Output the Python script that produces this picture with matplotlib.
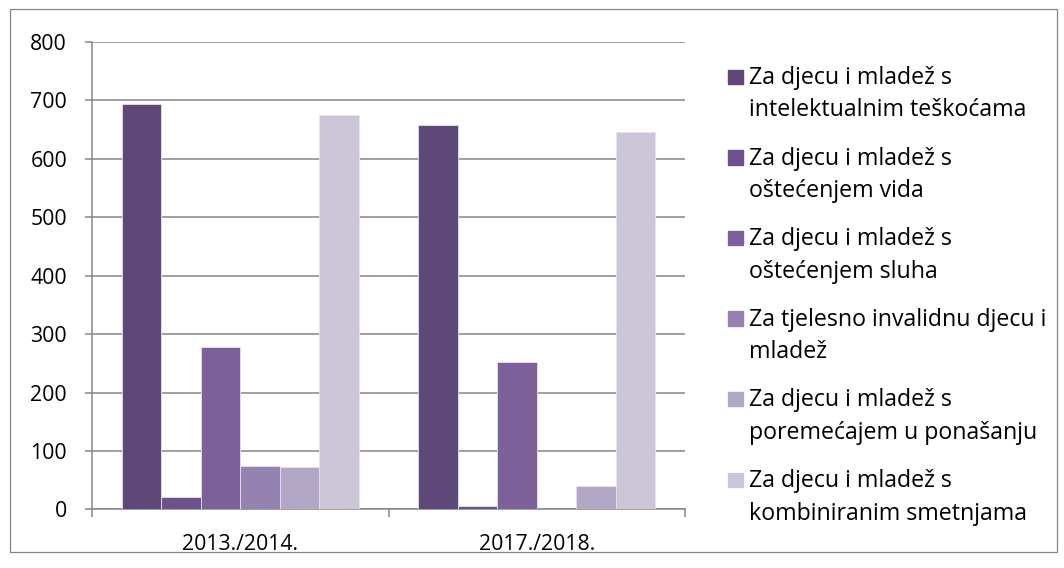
import numpy as np
import matplotlib.pyplot as plt
from matplotlib.patches import Rectangle

# school years on the x axis
years = ['2013./2014.', '2017./2018.']

# number of pupils per type of school
intelektualne = [693, 657]
vid = [21, 6]
sluh = [278, 253]
tjelesno = [74, 0]
ponasanje = [72, 40]
kombinirane = [675, 646]

labels = ['Za djecu i mladež s\nintelektualnim teškoćama',
          'Za djecu i mladež s\noštećenjem vida',
          'Za djecu i mladež s\noštećenjem sluha',
          'Za tjelesno invalidnu djecu i\nmladež',
          'Za djecu i mladež s\nporemećajem u ponašanju',
          'Za djecu i mladež s\nkombiniranim smetnjama']
colors = ['#5E4878', '#6A528C', '#7C6099', '#9482B0', '#B2A8C6', '#CCC5D8']

series = [intelektualne, vid, sluh, tjelesno, ponasanje, kombinirane]

plt.rcParams['font.family'] = ['Open Sans', 'DejaVu Sans']
plt.rcParams['font.size'] = 15.3

fig = plt.figure(figsize=(10.64, 5.68), dpi=100)
ax = fig.add_axes([0.0865, 0.103, 0.5573, 0.8237])

grey = '#868686'
x = np.arange(len(years))
w = 0.8 / len(series)
for i, vals in enumerate(series):
    ax.bar(x + (i - 2.5) * w, vals, width=w, color=colors[i],
           edgecolor='#E6E1EE', linewidth=0.6, zorder=3)

ax.set_xlim(-0.5, 1.5)
ax.set_ylim(0, 800)
ax.set_yticks(range(0, 801, 100))
ax.grid(axis='y', color=grey, linewidth=1.1, zorder=0)
ax.set_xticks(x)
ax.set_xticklabels(years)
ax.set_xticks([-0.5, 0.5, 1.5], minor=True)
ax.tick_params(axis='x', which='major', length=0, pad=18)
ax.tick_params(axis='x', which='minor', length=5.5, width=1.1, color=grey)
ax.tick_params(axis='y', length=5, width=1.1, color=grey, pad=13)
for s in ['top', 'right']:
    ax.spines[s].set_visible(False)
for s in ['left', 'bottom']:
    ax.spines[s].set_color(grey)
    ax.spines[s].set_linewidth(1.1)

# legend drawn by hand so the square sits by the first line, like Excel
W, H = 1064.0, 568.0
for i, lab in enumerate(labels):
    base = 84.0 + i * 80.6
    fig.add_artist(Rectangle((728 / W, 1 - base / H), 14.5 / W, 14.5 / H,
                             transform=fig.transFigure, color=colors[i]))
    for j, line in enumerate(lab.split('\n')):
        fig.text(749 / W, 1 - (base + j * 32.5) / H, line, ha='left',
                 va='baseline', fontsize=16.7)

# outer border of the chart
fig.add_artist(Rectangle((10 / W, 1 - 552 / H), 1047 / W, 543 / H,
                         transform=fig.transFigure, fill=False,
                         edgecolor=grey, linewidth=0.9))

fig.savefig('out.png', dpi=100)
